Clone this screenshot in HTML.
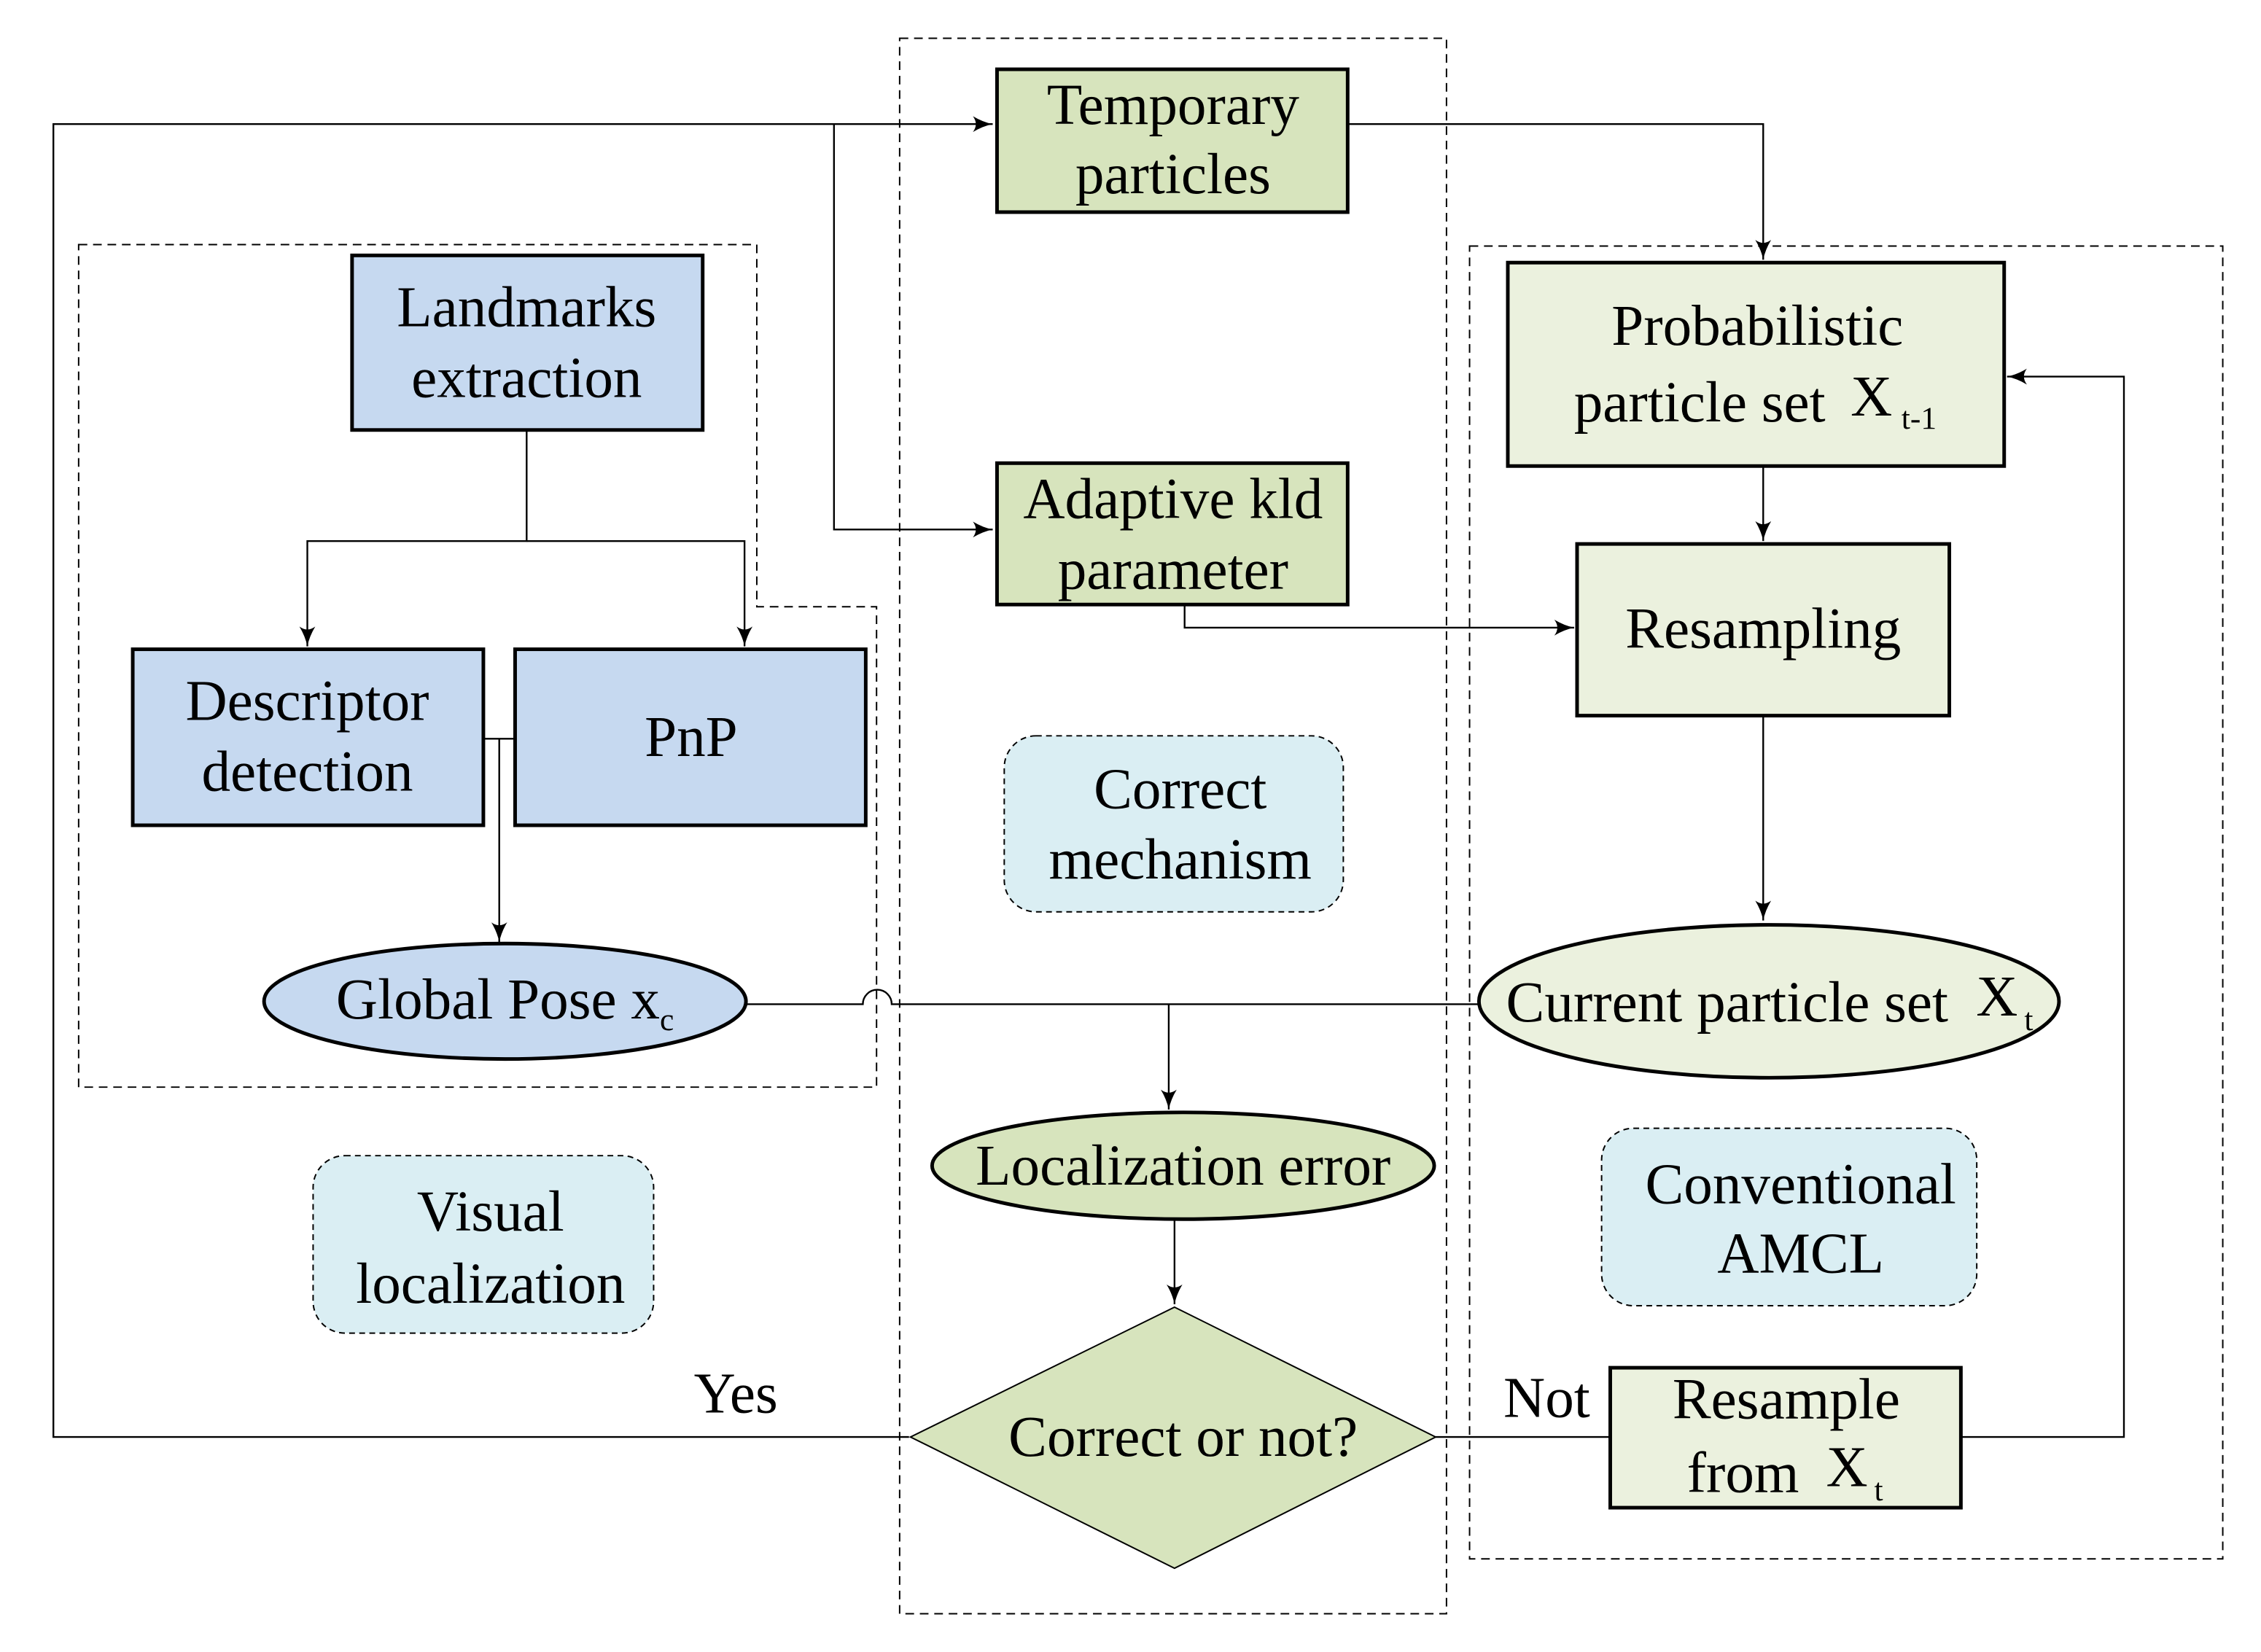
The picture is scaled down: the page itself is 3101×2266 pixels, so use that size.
<!DOCTYPE html>
<html><head><meta charset="utf-8"><style>html,body{margin:0;padding:0;background:#fff}svg{display:block}text{font-family:"Liberation Serif","Times New Roman",serif}</style></head><body>
<svg width="3101" height="2266" viewBox="0 0 1567 1145" xmlns="http://www.w3.org/2000/svg" font-size="40">
<defs>
<marker id="a" viewBox="0 0 20 16" refX="20" refY="8" markerWidth="14" markerHeight="11" markerUnits="userSpaceOnUse" orient="auto">
<path d="M0,0 Q10,6 20,8 Q10,10 0,16 Q6,8 0,0 Z" fill="#000"/>
</marker>
</defs>
<rect width="1567" height="1145" fill="#fff"/>
<g fill="none" stroke="#000" stroke-width="1" stroke-dasharray="6,4">
<rect x="623.5" y="26.5" width="379" height="1092"/>
<rect x="1018.5" y="170.5" width="522" height="910"/>
<path d="M54.5,169.5 H524.5 V420.5 H607.5 V753.5 H54.5 Z"/>
</g>
<g fill="#daeef3" stroke="#000" stroke-width="1" stroke-dasharray="4,3">
<rect x="217" y="801" width="236" height="123" rx="22"/>
<rect x="696" y="510" width="235" height="122" rx="22"/>
<rect x="1110" y="782" width="260" height="123" rx="22"/>
</g>
<g fill="none" stroke="#000" stroke-width="1.2">
<path d="M630,996 H37 V86 H688" marker-end="url(#a)"/>
<path d="M578,86 V367 H688" marker-end="url(#a)"/>
<path d="M934,86 H1222 V180" marker-end="url(#a)"/>
<path d="M1222,323 V375" marker-end="url(#a)"/>
<path d="M821,419 V435 H1091" marker-end="url(#a)"/>
<path d="M1222,496 V638" marker-end="url(#a)"/>
<path d="M1025,696 H618 A10,10 0 0 0 598,696 H517"/>
<path d="M810,696 V769" marker-end="url(#a)"/>
<path d="M814,845 V904" marker-end="url(#a)"/>
<path d="M995,996 H1116"/>
<path d="M1359,996 H1472 V261 H1391" marker-end="url(#a)"/>
<path d="M365,298 V375 H213 V448" marker-end="url(#a)"/>
<path d="M365,375 H516 V448" marker-end="url(#a)"/>
<path d="M336,512 H357"/>
<path d="M346,512 V653" marker-end="url(#a)"/>
</g>
<g stroke="#000" stroke-width="2.5">
<rect x="691" y="48" width="243" height="99" fill="#d7e4bd"/>
<rect x="691" y="321" width="243" height="98" fill="#d7e4bd"/>
<rect x="1045" y="182" width="344" height="141" fill="#ebf1de"/>
<rect x="1093" y="377" width="258" height="119" fill="#ebf1de"/>
<rect x="1116" y="948" width="243" height="97" fill="#ebf1de"/>
<rect x="244" y="177" width="243" height="121" fill="#c6d9f0"/>
<rect x="92" y="450" width="243" height="122" fill="#c6d9f0"/>
<rect x="357" y="450" width="243" height="122" fill="#c6d9f0"/>
<ellipse cx="350" cy="694" rx="167" ry="40" fill="#c6d9f0"/>
<ellipse cx="1226" cy="694" rx="201" ry="53" fill="#ebf1de"/>
<ellipse cx="820" cy="808" rx="174" ry="37" fill="#d7e4bd"/>
</g>
<path d="M814,906 L995,996 L814,1087 L631,996 Z" fill="#d7e4bd" stroke="#000" stroke-width="1"/>
<g text-anchor="middle" fill="#000">
<text x="813" y="86">Temporary</text><text x="813" y="134">particles</text>
<text x="813" y="359">Adaptive kld</text><text x="813" y="408">parameter</text>
<text x="1218" y="239">Probabilistic</text>
<text x="1178" y="292">particle set</text><text x="1297" y="288">X</text><text x="1330" y="297" font-size="22">t-1</text>
<text x="1222" y="449">Resampling</text>
<text x="1197" y="708">Current particle set</text><text x="1384" y="704">X</text><text x="1406" y="714" font-size="22">t</text>
<text x="820" y="821">Localization error</text>
<text x="820" y="1009">Correct or not?</text>
<text x="510" y="979">Yes</text>
<text x="1072" y="982">Not</text>
<text x="1238" y="983">Resample</text><text x="1208" y="1034">from</text><text x="1280" y="1030">X</text><text x="1302" y="1040" font-size="22">t</text>
<text x="365" y="226">Landmarks</text><text x="365" y="275">extraction</text>
<text x="213" y="499">Descriptor</text><text x="213" y="548">detection</text>
<text x="479" y="524">PnP</text>
<text x="350" y="706">Global Pose x<tspan font-size="22" dy="8">c</tspan></text>
<text x="340" y="853">Visual</text><text x="340" y="903">localization</text>
<text x="818" y="560">Correct</text><text x="818" y="609">mechanism</text>
<text x="1248" y="834">Conventional</text><text x="1248" y="882">AMCL</text>
</g>
</svg>
</body></html>
